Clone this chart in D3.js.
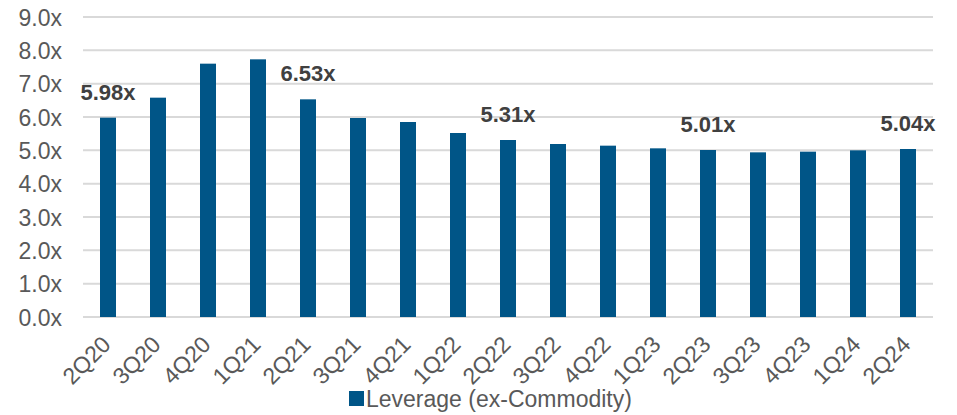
<!DOCTYPE html>
<html>
<head>
<meta charset="utf-8">
<script src="https://cdn.jsdelivr.net/npm/d3@7"></script>
<style>
  body { margin: 0; background: #fff; }
  svg { display: block; font-family: "Liberation Sans", Arial, sans-serif; }
  .grid line { stroke: #d9d9d9; stroke-width: 2; }
  .tick text { fill: #595959; }
</style>
</head>
<body>
<script>
// quarters and leverage values
var quarters = ["2Q20","3Q20","4Q20","1Q21","2Q21","3Q21","4Q21","1Q22","2Q22",
                "3Q22","4Q22","1Q23","2Q23","3Q23","4Q23","1Q24","2Q24"];
var leverage = [5.98, 6.58, 7.60, 7.73, 6.53, 5.97, 5.85, 5.52, 5.31,
                5.19, 5.14, 5.06, 5.01, 4.94, 4.96, 5.00, 5.04];
var labelled = ["2Q20","2Q21","2Q22","2Q23","2Q24"];
var yTicks = [0,1,2,3,4,5,6,7,8,9];
var seriesName = "Leverage (ex-Commodity)";

var W = 957, H = 415;
var margin = {top: 17, right: 24, bottom: 98, left: 83};
var width = W - margin.left - margin.right;
var height = H - margin.top - margin.bottom;

var svg = d3.select("body").append("svg")
    .attr("width", W).attr("height", H)
  .append("g")
    .attr("transform", "translate(" + margin.left + "," + margin.top + ")");

var x = d3.scaleBand().domain(quarters).range([0, width]).paddingInner(0.68).paddingOuter(0.34);
var y = d3.scaleLinear().domain([0, 9]).range([height, 0]);

//GRID
svg.append("g")
  .attr("class", "grid")
  .selectAll("line")
  .data(yTicks)
  .enter().append("line")
  .attr("x1", 0).attr("x2", width)
  .attr("y1", function(d){ return y(d); })
  .attr("y2", function(d){ return y(d); });

//Y AXIS
var yaxis = svg.append("g")
  .call(d3.axisLeft(y).tickValues(yTicks).tickSize(0).tickPadding(21)
    .tickFormat(function(d){ return d3.format(".1f")(d) + "x"; }));
yaxis.select(".domain").remove();
yaxis.selectAll("text").style("font-size", "23px").attr("dy", "0.36em");

//BARS
svg.append("g")
  .selectAll("rect")
  .data(quarters)
  .enter().append("rect")
  .attr("x", function(d){ return x(d); })
  .attr("width", x.bandwidth())
  .attr("y", function(d, i){ return y(leverage[i]); })
  .attr("height", function(d, i){ return height - y(leverage[i]); })
  .attr("fill", "#005587");

//X AXIS
var xaxis = svg.append("g")
  .attr("transform", "translate(0," + height + ")")
  .call(d3.axisBottom(x).tickSize(0).tickPadding(0));
xaxis.select(".domain").remove();
xaxis.selectAll("text")
  .style("font-size", "23px")
  .style("text-anchor", "end")
  .attr("dy", null)
  .attr("y", 0)
  .attr("transform", "translate(4,29) rotate(-45)");

//DATA LABELS
svg.append("g")
  .selectAll("text")
  .data(quarters.filter(function(q){ return labelled.indexOf(q) >= 0; }))
  .enter().append("text")
  .attr("x", function(d){ return x(d) + x.bandwidth()/2; })
  .attr("y", function(d){ return y(leverage[quarters.indexOf(d)]) - 18; })
  .attr("text-anchor", "middle")
  .style("font-size", "22px")
  .style("font-weight", "bold")
  .style("fill", "#404040")
  .text(function(d){ return leverage[quarters.indexOf(d)].toFixed(2) + "x"; });

//LEGEND
var legend = d3.select("svg").append("g").attr("transform", "translate(349,391)");
legend.append("rect").attr("width", 15).attr("height", 15).attr("fill", "#005587");
legend.append("text").attr("x", 17).attr("y", 16)
  .style("font-size", "23px").style("fill", "#595959").text(seriesName);
</script>
</body>
</html>
